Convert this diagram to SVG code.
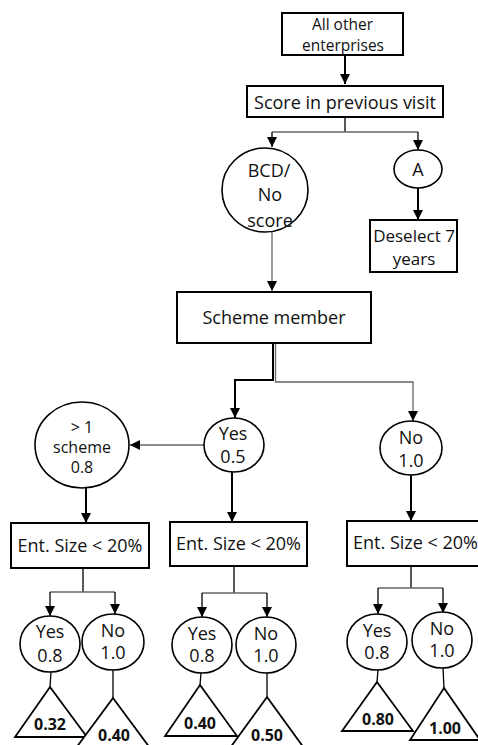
<svg xmlns="http://www.w3.org/2000/svg" width="478" height="745" viewBox="0 0 478 745">
<style>
  .box{fill:#fff;stroke:#000;stroke-width:2}
  .oval{fill:#fff;stroke:#000;stroke-width:1.6}
  .tri{fill:#fff;stroke:#000;stroke-width:1.8}
  text{font-family:"Open Sans","DejaVu Sans",sans-serif;fill:#111;text-anchor:middle}
  .t15{font-size:15.5px}
  .t16{font-size:16px}
  .t17{font-size:17px}
  .t18{font-size:18px}
  .b{font-size:16px;font-weight:bold}
  .k{fill:none;stroke:#000;stroke-width:2}
  .k1{fill:none;stroke:#000;stroke-width:1.3}
  .g{fill:none;stroke:#666;stroke-width:1.3}
</style>
<defs>
  <marker id="ah" markerUnits="userSpaceOnUse" markerWidth="10" markerHeight="10" viewBox="0 0 10 10" refX="10" refY="5" orient="auto">
    <path d="M0,0 L10,5 L0,10 z" fill="#000"/>
  </marker>
</defs>
<g id="connectors">
  <path class="k" d="M345,55 V84" marker-end="url(#ah)"/>
  <path class="k1" d="M345,117 V132"/>
  <path class="g" d="M272,132 H418"/>
  <path class="k1" d="M272,132 V147" marker-end="url(#ah)"/>
  <path class="k1" d="M418,132 V150" marker-end="url(#ah)"/>
  <path class="k" d="M418,188 V220" marker-end="url(#ah)"/>
  <path class="g" d="M272,232 V291" marker-end="url(#ah)"/>
  <path class="k" d="M273,343 V380 H235 V418" marker-end="url(#ah)"/>
  <path class="g" d="M275.5,343 V382 H413 V421" marker-end="url(#ah)"/>
  <path class="g" d="M204,445 H130" marker-end="url(#ah)"/>
  <path class="k" d="M86,488 V523" marker-end="url(#ah)"/>
  <path class="k" d="M232,472 V522" marker-end="url(#ah)"/>
  <path class="k" d="M411,475 V521" marker-end="url(#ah)"/>
  <path class="k1" d="M83,568 V592"/>
  <path class="g" d="M50,592 H115"/>
  <path class="k1" d="M50,592 V616" marker-end="url(#ah)"/>
  <path class="k1" d="M115,592 V614" marker-end="url(#ah)"/>
  <path class="k1" d="M234,566 V593"/>
  <path class="g" d="M202,593 H267"/>
  <path class="k1" d="M202,593 V617" marker-end="url(#ah)"/>
  <path class="k1" d="M267,593 V617" marker-end="url(#ah)"/>
  <path class="k1" d="M411,566 V588"/>
  <path class="g" d="M378,588 H443"/>
  <path class="k1" d="M378,588 V614" marker-end="url(#ah)"/>
  <path class="k1" d="M443,588 V613" marker-end="url(#ah)"/>
  <path class="k1" d="M51,672 L50,687"/>
  <path class="k1" d="M113,670 L113,698"/>
  <path class="k1" d="M201,673 L200,685"/>
  <path class="k1" d="M267,673 L267,697"/>
  <path class="k1" d="M378,670 L377,682"/>
  <path class="k1" d="M443,668 L444,688"/>
</g>
<g id="n-all"><rect class="box" x="282" y="13" width="121" height="42"/><text class="t15" x="342.5" y="29.5">All other</text><text class="t15" x="343" y="50.5">enterprises</text></g>
<g id="n-score"><rect class="box" x="247" y="86" width="196" height="31"/><text class="t18" x="345" y="109">Score in previous visit</text></g>
<g id="n-bcd"><ellipse class="oval" cx="265" cy="190" rx="43" ry="42"/><text class="t18" x="269" y="177">BCD/</text><text class="t18" x="270" y="201">No</text><text class="t18" x="270" y="227">score</text></g>
<g id="n-a"><ellipse class="oval" cx="418" cy="169" rx="24" ry="19"/><text class="t18" x="418" y="176">A</text></g>
<g id="n-deselect"><rect class="box" x="370" y="220" width="87" height="52"/><text class="t17" x="414" y="242">Deselect 7</text><text class="t17" x="414" y="265">years</text></g>
<g id="n-scheme"><rect class="box" x="177" y="292" width="194" height="51"/><text class="t18" x="274" y="324">Scheme member</text></g>
<g id="n-multi"><ellipse class="oval" cx="82" cy="445" rx="47" ry="43"/><text class="t16" x="82" y="433">&gt; 1</text><text class="t16" x="82" y="453">scheme</text><text class="t16" x="82" y="473">0.8</text></g>
<g id="n-yes"><ellipse class="oval" cx="234" cy="445" rx="30" ry="27"/><text class="t18" x="233" y="440">Yes</text><text class="t18" x="233" y="463">0.5</text></g>
<g id="n-no"><ellipse class="oval" cx="411" cy="448" rx="31" ry="27"/><text class="t18" x="411" y="444">No</text><text class="t18" x="411" y="467">1.0</text></g>
<g id="n-ent1"><rect class="box" x="11" y="523" width="138" height="45"/><text class="t18" x="80" y="552">Ent. Size &lt; 20%</text></g>
<g id="n-ent2"><rect class="box" x="170" y="522" width="137" height="44"/><text class="t18" x="238.5" y="550">Ent. Size &lt; 20%</text></g>
<g id="n-ent3"><rect class="box" x="347" y="521" width="137" height="45"/><text class="t18" x="415.5" y="549">Ent. Size &lt; 20%</text></g>
<g id="n-yes1"><ellipse class="oval" cx="50" cy="644" rx="30" ry="28"/><text class="t18" x="50" y="638">Yes</text><text class="t18" x="50" y="662">0.8</text></g>
<g id="n-no1"><ellipse class="oval" cx="113" cy="642" rx="31" ry="28"/><text class="t18" x="113" y="637">No</text><text class="t18" x="113" y="659">1.0</text></g>
<g id="n-yes2"><ellipse class="oval" cx="202" cy="645" rx="30" ry="28"/><text class="t18" x="202" y="640">Yes</text><text class="t18" x="202" y="662">0.8</text></g>
<g id="n-no2"><ellipse class="oval" cx="266" cy="645" rx="30" ry="28"/><text class="t18" x="266" y="640">No</text><text class="t18" x="266" y="662">1.0</text></g>
<g id="n-yes3"><ellipse class="oval" cx="377" cy="642" rx="30" ry="28"/><text class="t18" x="377" y="637">Yes</text><text class="t18" x="377" y="659">0.8</text></g>
<g id="n-no3"><ellipse class="oval" cx="442" cy="640" rx="30" ry="28"/><text class="t18" x="442" y="635">No</text><text class="t18" x="442" y="657">1.0</text></g>
<g id="n-t1"><path class="tri" d="M50,687 L87,737 L15,737 Z"/><text class="b" x="50" y="730">0.32</text></g>
<g id="n-t2"><path class="tri" d="M113,698 L150,748 L76,748 Z"/><text class="b" x="114" y="741">0.40</text></g>
<g id="n-t3"><path class="tri" d="M200,685 L237,736 L165,736 Z"/><text class="b" x="200" y="729">0.40</text></g>
<g id="n-t4"><path class="tri" d="M267,697 L304,748 L230,748 Z"/><text class="b" x="267" y="741">0.50</text></g>
<g id="n-t5"><path class="tri" d="M377,682 L413,731 L342,731 Z"/><text class="b" x="378" y="725">0.80</text></g>
<g id="n-t6"><path class="tri" d="M444,688 L480,740 L410,740 Z"/><text class="b" x="445" y="734">1.00</text></g>
</svg>
